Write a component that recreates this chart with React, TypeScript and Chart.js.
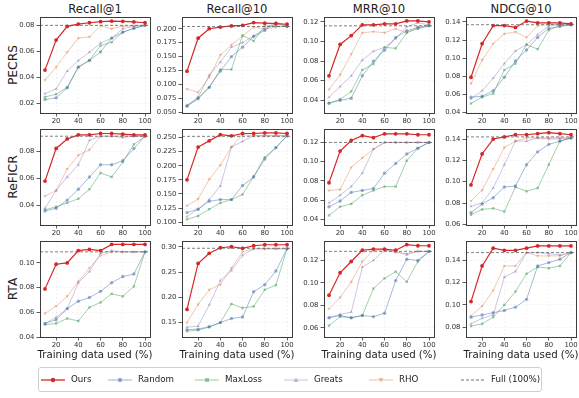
import React, { useEffect, useRef } from 'react';
import { Chart, registerables } from 'chart.js';
Chart.register(...registerables);

const X_VALUES = [10, 20, 30, 40, 50, 60, 70, 80, 90, 100];
const X_TICKS = [20, 40, 60, 80, 100];
const METHODS = ['Ours', 'Random', 'MaxLoss', 'Greats', 'RHO'];
const ROW_NAMES = ['PECRS', 'ReFICR', 'RTA'];
const METRIC_NAMES = ['Recall@1', 'Recall@10', 'MRR@10', 'NDCG@10'];
const X_TITLE = 'Training data used (%)';
const FULL_LABEL = 'Full (100%)';

// series order: Ours, Random, MaxLoss, Greats, RHO
const PECRS_RECALL1 = [
  [0.0457, 0.0687, 0.0792, 0.081, 0.082, 0.0828, 0.0833, 0.0831, 0.0826, 0.082],
  [0.0231, 0.0244, 0.0321, 0.0478, 0.053, 0.0597, 0.0702, 0.0748, 0.0777, 0.080],
  [0.0251, 0.0272, 0.0326, 0.0483, 0.0532, 0.0645, 0.0671, 0.0748, 0.0777, 0.080],
  [0.0277, 0.0313, 0.045, 0.053, 0.0594, 0.0664, 0.0702, 0.0774, 0.0792, 0.080],
  [0.038, 0.048, 0.0594, 0.0702, 0.0712, 0.0797, 0.0774, 0.0792, 0.0797, 0.080],
];
const PECRS_RECALL10 = [
  [0.124, 0.183, 0.200, 0.203, 0.205, 0.206, 0.211, 0.210, 0.209, 0.208],
  [0.061, 0.076, 0.095, 0.124, 0.150, 0.167, 0.186, 0.197, 0.210, 0.204],
  [0.062, 0.074, 0.095, 0.127, 0.127, 0.188, 0.178, 0.205, 0.205, 0.204],
  [0.063, 0.077, 0.117, 0.140, 0.167, 0.175, 0.187, 0.200, 0.212, 0.205],
  [0.092, 0.086, 0.113, 0.153, 0.171, 0.187, 0.203, 0.200, 0.203, 0.204],
];
const PECRS_MRR10 = [
  [0.065, 0.097, 0.106, 0.117, 0.117, 0.118, 0.118, 0.121, 0.121, 0.120],
  [0.037, 0.040, 0.042, 0.065, 0.080, 0.091, 0.104, 0.111, 0.114, 0.116],
  [0.037, 0.041, 0.049, 0.071, 0.077, 0.094, 0.093, 0.109, 0.113, 0.116],
  [0.043, 0.054, 0.065, 0.081, 0.090, 0.094, 0.103, 0.115, 0.119, 0.117],
  [0.051, 0.066, 0.087, 0.109, 0.110, 0.109, 0.113, 0.109, 0.115, 0.117],
];
const PECRS_NDCG10 = [
  [0.079, 0.116, 0.136, 0.136, 0.134, 0.141, 0.139, 0.139, 0.139, 0.138],
  [0.057, 0.058, 0.064, 0.079, 0.097, 0.109, 0.123, 0.133, 0.135, 0.137],
  [0.050, 0.057, 0.061, 0.087, 0.094, 0.115, 0.110, 0.131, 0.136, 0.137],
  [0.055, 0.064, 0.078, 0.094, 0.108, 0.115, 0.126, 0.136, 0.138, 0.137],
  [0.072, 0.098, 0.116, 0.127, 0.129, 0.123, 0.136, 0.137, 0.136, 0.137],
];
const REFICR_RECALL1 = [
  [0.058, 0.082, 0.089, 0.092, 0.092, 0.093, 0.093, 0.0925, 0.092, 0.092],
  [0.036, 0.038, 0.044, 0.052, 0.061, 0.070, 0.070, 0.073, 0.082, 0.091],
  [0.037, 0.039, 0.042, 0.045, 0.052, 0.064, 0.061, 0.072, 0.085, 0.091],
  [0.038, 0.051, 0.061, 0.070, 0.088, 0.091, 0.091, 0.090, 0.091, 0.091],
  [0.047, 0.051, 0.067, 0.077, 0.081, 0.091, 0.091, 0.091, 0.091, 0.091],
];
const REFICR_RECALL10 = [
  [0.175, 0.233, 0.244, 0.255, 0.253, 0.257, 0.257, 0.258, 0.258, 0.257],
  [0.117, 0.123, 0.137, 0.140, 0.140, 0.165, 0.180, 0.212, 0.232, 0.253],
  [0.105, 0.111, 0.123, 0.134, 0.140, 0.149, 0.181, 0.215, 0.232, 0.253],
  [0.110, 0.123, 0.140, 0.164, 0.233, 0.243, 0.253, 0.253, 0.253, 0.253],
  [0.129, 0.141, 0.176, 0.201, 0.233, 0.255, 0.253, 0.253, 0.253, 0.253],
];
const REFICR_MRR10 = [
  [0.078, 0.111, 0.122, 0.127, 0.125, 0.129, 0.129, 0.129, 0.128, 0.128],
  [0.053, 0.059, 0.068, 0.070, 0.072, 0.088, 0.098, 0.108, 0.114, 0.120],
  [0.044, 0.053, 0.056, 0.065, 0.070, 0.074, 0.074, 0.101, 0.114, 0.120],
  [0.057, 0.065, 0.074, 0.088, 0.113, 0.120, 0.120, 0.120, 0.120, 0.120],
  [0.070, 0.071, 0.094, 0.104, 0.113, 0.120, 0.120, 0.120, 0.120, 0.120],
];
const REFICR_NDCG10 = [
  [0.097, 0.126, 0.140, 0.142, 0.144, 0.144, 0.145, 0.146, 0.145, 0.144],
  [0.071, 0.079, 0.085, 0.095, 0.096, 0.116, 0.128, 0.135, 0.138, 0.141],
  [0.069, 0.074, 0.075, 0.072, 0.095, 0.091, 0.094, 0.116, 0.138, 0.141],
  [0.077, 0.080, 0.094, 0.116, 0.138, 0.138, 0.141, 0.141, 0.141, 0.141],
  [0.082, 0.092, 0.112, 0.132, 0.138, 0.141, 0.141, 0.140, 0.140, 0.141],
];
const RTA_RECALL1 = [
  [0.079, 0.099, 0.100, 0.110, 0.111, 0.110, 0.115, 0.115, 0.115, 0.115],
  [0.051, 0.054, 0.063, 0.069, 0.072, 0.077, 0.084, 0.089, 0.091, 0.109],
  [0.050, 0.051, 0.055, 0.053, 0.064, 0.068, 0.075, 0.073, 0.081, 0.109],
  [0.051, 0.056, 0.063, 0.084, 0.093, 0.108, 0.110, 0.109, 0.109, 0.109],
  [0.059, 0.065, 0.073, 0.085, 0.096, 0.106, 0.109, 0.109, 0.109, 0.109],
];
const RTA_RECALL10 = [
  [0.176, 0.267, 0.287, 0.298, 0.300, 0.297, 0.302, 0.304, 0.304, 0.304],
  [0.136, 0.137, 0.142, 0.150, 0.158, 0.161, 0.211, 0.225, 0.252, 0.296],
  [0.133, 0.135, 0.141, 0.150, 0.187, 0.179, 0.182, 0.215, 0.224, 0.296],
  [0.141, 0.143, 0.185, 0.233, 0.253, 0.283, 0.296, 0.296, 0.296, 0.296],
  [0.150, 0.186, 0.215, 0.225, 0.258, 0.290, 0.296, 0.296, 0.296, 0.296],
];
const RTA_MRR10 = [
  [0.089, 0.109, 0.119, 0.129, 0.130, 0.130, 0.129, 0.134, 0.133, 0.133],
  [0.069, 0.071, 0.069, 0.071, 0.070, 0.073, 0.102, 0.121, 0.120, 0.128],
  [0.062, 0.070, 0.069, 0.071, 0.095, 0.104, 0.110, 0.101, 0.119, 0.128],
  [0.069, 0.072, 0.074, 0.114, 0.120, 0.129, 0.128, 0.125, 0.128, 0.128],
  [0.077, 0.087, 0.101, 0.119, 0.129, 0.129, 0.127, 0.126, 0.128, 0.128],
];
const RTA_NDCG10 = [
  [0.103, 0.135, 0.151, 0.149, 0.149, 0.151, 0.153, 0.153, 0.153, 0.153],
  [0.089, 0.091, 0.093, 0.095, 0.098, 0.105, 0.135, 0.138, 0.141, 0.147],
  [0.081, 0.083, 0.089, 0.100, 0.112, 0.128, 0.134, 0.133, 0.135, 0.147],
  [0.083, 0.088, 0.091, 0.125, 0.130, 0.147, 0.147, 0.146, 0.145, 0.147],
  [0.090, 0.099, 0.113, 0.135, 0.135, 0.147, 0.144, 0.144, 0.144, 0.147],
];

const FULL_VALUES = [
  [0.080, 0.204, 0.116, 0.137],
  [0.091, 0.252, 0.120, 0.142],
  [0.109, 0.297, 0.128, 0.147],
];

const Y_TICKS = [
  [[0.02, 0.04, 0.06, 0.08], [0.05, 0.075, 0.1, 0.125, 0.15, 0.175, 0.2], [0.04, 0.06, 0.08, 0.1, 0.12], [0.04, 0.06, 0.08, 0.1, 0.12, 0.14]],
  [[0.04, 0.06, 0.08], [0.1, 0.125, 0.15, 0.175, 0.2, 0.225, 0.25], [0.04, 0.06, 0.08, 0.1, 0.12], [0.06, 0.08, 0.1, 0.12, 0.14]],
  [[0.04, 0.06, 0.08, 0.1], [0.15, 0.2, 0.25, 0.3], [0.06, 0.08, 0.1, 0.12], [0.08, 0.1, 0.12, 0.14]],
];
const Y_TICK_DECIMALS = [
  [2, 3, 2, 2],
  [2, 3, 2, 2],
  [2, 2, 2, 2],
];
const Y_RANGES = [
  [[0.0128, 0.0864], [0.049, 0.221], [0.027, 0.125], [0.0395, 0.1455]],
  [[0.0257, 0.0963], [0.095, 0.265], [0.034, 0.134], [0.0594, 0.1494]],
  [[0.040, 0.1178], [0.1215, 0.3114], [0.0519, 0.1372], [0.0712, 0.1574]],
];
const X_RANGE = [5.5, 104.5];

const PANELS = [
  [PECRS_RECALL1, PECRS_RECALL10, PECRS_MRR10, PECRS_NDCG10],
  [REFICR_RECALL1, REFICR_RECALL10, REFICR_MRR10, REFICR_NDCG10],
  [RTA_RECALL1, RTA_RECALL10, RTA_MRR10, RTA_NDCG10],
];

// styles
const FONT = 'DejaVu Sans';
const COLORS = ['#d62728', 'rgba(76,114,176,0.55)', 'rgba(85,168,104,0.6)', 'rgba(129,114,179,0.45)', 'rgba(221,132,82,0.5)'];
const POINT_STYLES = ['circle', 'circle', 'rect', 'triangle', 'triangle'];
const POINT_ROT = [0, 0, 0, 0, 180];
const POINT_R = [1.9, 1.7, 1.7, 1.9, 1.9];
const LINE_W = [1.2, 0.9, 0.9, 0.9, 0.9];
const FULL_COLOR = 'rgba(90,90,90,0.85)';

const PLOT_LEFTS = [40, 182, 324, 466];
const PLOT_TOPS = [17, 129, 241];
const PLOT_W = 110;
const PLOT_H = 96;
const YAXIS_W = 40;
const PAD_T = 8;
const PAD_R = 12;
const XAXIS_H = 18;

const boxPlugin = {
  id: 'boxAndFull',
  afterDatasetsDraw(chart: any, _args: any, opts: any) {
    const { ctx, chartArea } = chart;
    const y = chart.scales.y.getPixelForValue(opts.full);
    ctx.save();
    ctx.strokeStyle = FULL_COLOR;
    ctx.lineWidth = 0.9;
    ctx.setLineDash([3, 2]);
    ctx.beginPath();
    ctx.moveTo(chartArea.left, y);
    ctx.lineTo(chartArea.right, y);
    ctx.stroke();
    ctx.setLineDash([]);
    ctx.strokeStyle = '#3c3c3c';
    ctx.lineWidth = 1;
    ctx.strokeRect(Math.round(chartArea.left) + 0.5, Math.round(chartArea.top) + 0.5,
      Math.round(chartArea.right - chartArea.left), Math.round(chartArea.bottom - chartArea.top));
    ctx.restore();
  },
};

function Panel({ r, c }: { r: number; c: number }) {
  const ref = useRef<HTMLCanvasElement>(null);
  useEffect(() => {
    const series = PANELS[r][c];
    const ticks = Y_TICKS[r][c];
    const dec = Y_TICK_DECIMALS[r][c];
    const tickFont = { family: FONT, size: 6.9 };
    const chart = new Chart(ref.current as HTMLCanvasElement, {
      type: 'line',
      data: {
        datasets: series.map((vals, i) => ({
          label: METHODS[i],
          data: X_VALUES.map((x, j) => ({ x, y: vals[j] })),
          borderColor: COLORS[i],
          backgroundColor: COLORS[i],
          borderWidth: LINE_W[i],
          pointStyle: POINT_STYLES[i] as any,
          rotation: POINT_ROT[i],
          pointRadius: POINT_R[i],
          pointBorderWidth: 0,
          tension: 0,
          fill: false,
        })),
      },
      options: {
        animation: false,
        responsive: false,
        layout: { padding: { left: 0, top: PAD_T, right: PAD_R, bottom: 0 } },
        plugins: { legend: { display: false }, tooltip: { enabled: false }, boxAndFull: { full: FULL_VALUES[r][c] } } as any,
        scales: {
          x: {
            type: 'linear',
            min: X_RANGE[0],
            max: X_RANGE[1],
            afterBuildTicks: (s: any) => { s.ticks = X_TICKS.map((v) => ({ value: v })); },
            afterFit: (s: any) => { s.height = XAXIS_H; },
            ticks: { font: tickFont, color: '#333', padding: 1, autoSkip: false, maxRotation: 0, callback: (v: any) => String(v) },
            grid: { color: 'rgba(0,0,0,0.08)', lineWidth: 0.6, tickLength: 3.5, tickColor: '#333', tickWidth: 0.8 },
            border: { display: false, dash: [2, 2] },
          },
          y: {
            type: 'linear',
            min: Y_RANGES[r][c][0],
            max: Y_RANGES[r][c][1],
            afterBuildTicks: (s: any) => { s.ticks = ticks.map((v) => ({ value: v })); },
            afterFit: (s: any) => { s.width = YAXIS_W; },
            ticks: { font: tickFont, color: '#333', padding: 2, autoSkip: false, callback: (v: any) => Number(v).toFixed(dec) },
            grid: { color: 'rgba(0,0,0,0.08)', lineWidth: 0.6, tickLength: 3.5, tickColor: '#333', tickWidth: 0.8 },
            border: { display: false, dash: [2, 2] },
          },
        },
      } as any,
      plugins: [boxPlugin],
    });
    return () => chart.destroy();
  }, [r, c]);
  const w = YAXIS_W + PLOT_W + PAD_R;
  const h = PAD_T + PLOT_H + XAXIS_H;
  return (
    <canvas
      ref={ref}
      width={w}
      height={h}
      style={{ position: 'absolute', left: PLOT_LEFTS[c] - YAXIS_W, top: PLOT_TOPS[r] - PAD_T, width: w, height: h }}
    />
  );
}

function LegendSample({ i }: { i: number }) {
  const color = i < 5 ? COLORS[i] : FULL_COLOR;
  let marker: any = null;
  if (i < 5) {
    const st = POINT_STYLES[i];
    if (st === 'circle') marker = <circle cx={12} cy={5} r={2.2} fill={color} />;
    else if (st === 'rect') marker = <rect x={10} y={3} width={4} height={4} fill={color} />;
    else if (POINT_ROT[i] === 0) marker = <polygon points="12,2.4 14.6,7 9.4,7" fill={color} />;
    else marker = <polygon points="12,7.6 14.6,3 9.4,3" fill={color} />;
  }
  return (
    <svg width={24} height={10} style={{ display: 'block' }}>
      <line x1={0} y1={5} x2={24} y2={5} stroke={color} strokeWidth={i === 0 ? 1.3 : 1} strokeDasharray={i < 5 ? undefined : '3,2'} />
      {marker}
    </svg>
  );
}

export default function App() {
  const legendItems = [...METHODS, FULL_LABEL];
  const legendX = [41, 108, 195, 284, 369, 461];
  return (
    <div style={{ position: 'absolute', left: 0, top: 0, width: 579, height: 398, background: '#fff', fontFamily: FONT, color: '#222', overflow: 'hidden' }}>
      {METRIC_NAMES.map((m, c) => (
        <div key={m} style={{ position: 'absolute', left: PLOT_LEFTS[c], width: PLOT_W, top: 2, lineHeight: '14px', fontSize: 11.6, textAlign: 'center' }}>{m}</div>
      ))}
      {ROW_NAMES.map((n, r) => (
        <div key={n} style={{ position: 'absolute', left: 12.5, top: PLOT_TOPS[r] + PLOT_H / 2, fontSize: 12.3, lineHeight: '14px', whiteSpace: 'nowrap', transform: 'translate(-50%, -50%) rotate(-90deg)' }}>{n}</div>
      ))}
      {ROW_NAMES.map((_, r) => METRIC_NAMES.map((__, c) => <Panel key={r + '-' + c} r={r} c={c} />))}
      {METRIC_NAMES.map((m, c) => (
        <div key={'xt' + m} style={{ position: 'absolute', left: PLOT_LEFTS[c] - 20, width: PLOT_W + 40, top: 348, lineHeight: '13px', fontSize: 10.2, textAlign: 'center', whiteSpace: 'nowrap' }}>{X_TITLE}</div>
      ))}
      <div style={{ position: 'absolute', left: 38, top: 367, width: 504, height: 25, border: '1px solid #d0d0d0', borderRadius: 3, boxSizing: 'border-box' }} />
      {legendItems.map((t, i) => (
        <div key={t} style={{ position: 'absolute', left: legendX[i], top: 374, display: 'flex', alignItems: 'center', gap: 6, fontSize: 8.7, lineHeight: '11px', whiteSpace: 'nowrap' }}>
          <LegendSample i={i} />
          <span>{t}</span>
        </div>
      ))}
    </div>
  );
}
